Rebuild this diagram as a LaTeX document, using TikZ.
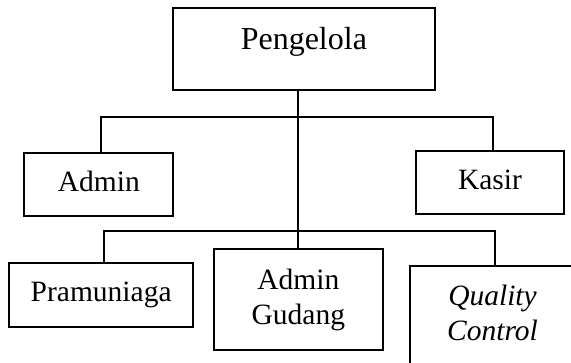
\documentclass[tikz,border=0pt]{standalone}
\usepackage{fontspec}
\setmainfont{Liberation Serif}
\begin{document}
\begin{tikzpicture}[x=1pt,y=-1pt,
  box/.style={draw, line width=2pt, rectangle, inner sep=0pt, font=\fontsize{29.5}{35}\selectfont, align=center},
  conn/.style={draw, line width=2pt, line join=miter}]
\useasboundingbox (0,0) rectangle (571,363);
\clip (0,0) rectangle (571,363);
% boxes
\node[box, minimum width=262.3pt, minimum height=81.7pt, text height=22pt, text depth=22pt,
      font=\fontsize{32}{36}\selectfont] (peng) at (303.85,49.15) {Pengelola};
\node[box, minimum width=149pt, minimum height=63.3pt, text height=21pt, text depth=6.3pt] (admin) at (98.8,184.35) {Admin};
\node[box, minimum width=148.6pt, minimum height=63pt, text height=21pt, text depth=6pt] (kasir) at (490,182.5) {Kasir};
\node[box, minimum width=184.3pt, minimum height=63.4pt, text height=21pt, text depth=7.6pt] (pram) at (101.15,295) {Pramuniaga};
\node[box, minimum width=168.7pt, minimum height=100.7pt] (gud) at (298.35,299.7) {Admin\\Gudang};
\node[box, anchor=north west, minimum width=167pt, minimum height=120pt] (qc) at (409,265) {};
\node[inner sep=0pt, anchor=north, align=center, font=\fontsize{29.5}{35}\selectfont\itshape] (qctext) at (492.5,284.9) {Quality\\Control};
% junction coordinates
\coordinate (j1) at (297.5,116.7);
\coordinate (a1) at (101,116.7);
\coordinate (k1) at (493.3,116.7);
\coordinate (p2) at (104,231.3);
\coordinate (q2) at (495,231.3);
% connectors
\draw[conn] (peng.south -| j1) -- (gud.north -| j1);
\draw[conn] (admin.north -| a1) -- (a1) -- (k1) -- (kasir.north -| k1);
\draw[conn] (pram.north -| p2) -- (p2) -- (q2) -- (qc.north -| q2);
\end{tikzpicture}
\end{document}
